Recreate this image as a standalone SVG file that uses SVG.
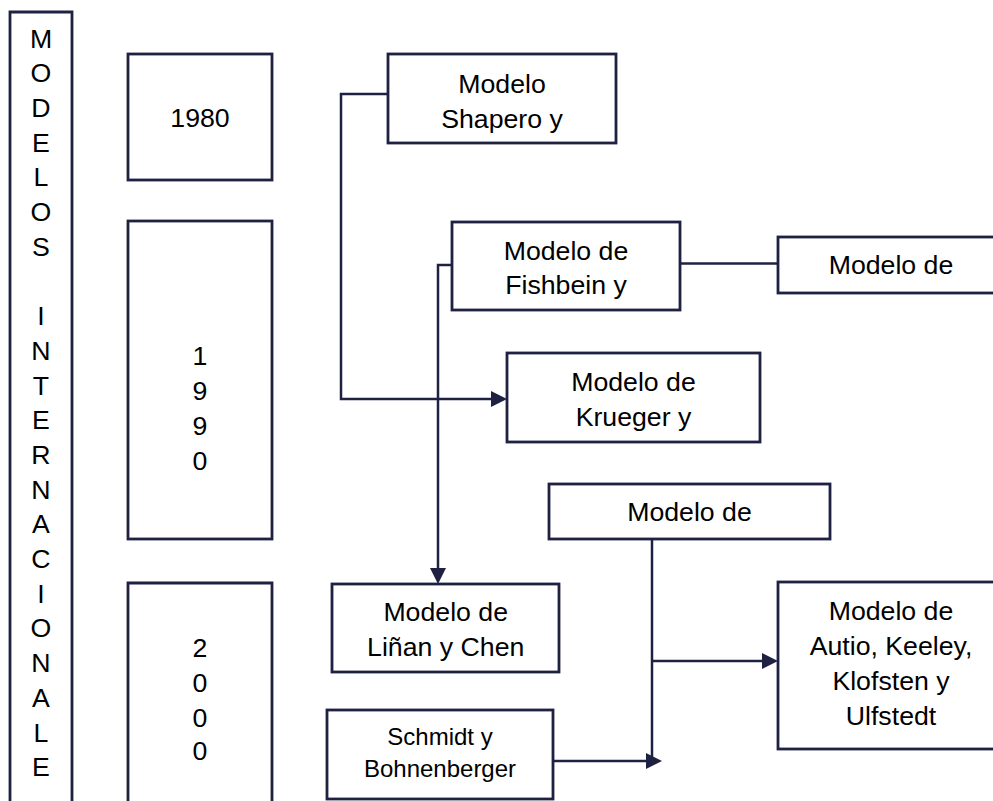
<svg xmlns="http://www.w3.org/2000/svg" width="993" height="801" viewBox="0 0 993 801">
  <defs>
    <style>
      .box { fill: #ffffff; stroke: #1f2142; stroke-width: 2.8; }
      .wire { fill: none; stroke: #1f2142; stroke-width: 2.5; }
      .t { font-family: "Liberation Sans", Arial, sans-serif; font-size: 26.7px; fill: #000000; text-anchor: middle; }
      .s { font-family: "Liberation Sans", Arial, sans-serif; font-size: 24px; fill: #000000; text-anchor: middle; }
    </style>
    <marker id="arrow" markerUnits="userSpaceOnUse" markerWidth="16" markerHeight="18" refX="12" refY="9" orient="auto">
      <path d="M0,1 L16,9 L0,17 Z" fill="#1f2142"/>
    </marker>
  </defs>

  <rect width="993" height="801" fill="#ffffff"/>

  <!-- vertical title column -->
  <g id="titulo">
    <path class="box" d="M10,815 V12 H72 V815"/>
    <g class="t">
      <text x="41" y="47.5">M</text>
      <text x="41" y="82.2">O</text>
      <text x="41" y="116.9">D</text>
      <text x="41" y="151.6">E</text>
      <text x="41" y="186.3">L</text>
      <text x="41" y="221">O</text>
      <text x="41" y="255.7">S</text>
      <text x="41" y="325.1">I</text>
      <text x="41" y="359.8">N</text>
      <text x="41" y="394.5">T</text>
      <text x="41" y="429.2">E</text>
      <text x="41" y="463.9">R</text>
      <text x="41" y="498.6">N</text>
      <text x="41" y="533.3">A</text>
      <text x="41" y="568">C</text>
      <text x="41" y="602.7">I</text>
      <text x="41" y="637.4">O</text>
      <text x="41" y="672.1">N</text>
      <text x="41" y="706.8">A</text>
      <text x="41" y="741.5">L</text>
      <text x="41" y="776.2">E</text>
    </g>
  </g>

  <!-- decades -->
  <g id="anio-1980">
    <rect class="box" x="128" y="54" width="144" height="126"/>
    <text class="t" x="200" y="126.5">1980</text>
  </g>
  <g id="anio-1990">
    <rect class="box" x="128" y="221" width="144" height="318"/>
    <g class="t">
      <text x="200" y="364.5">1</text>
      <text x="200" y="399.5">9</text>
      <text x="200" y="434.5">9</text>
      <text x="200" y="469.5">0</text>
    </g>
  </g>
  <g id="anio-2000">
    <path class="box" d="M128,815 V583 H272 V815"/>
    <g class="t">
      <text x="200" y="656.5">2</text>
      <text x="200" y="692">0</text>
      <text x="200" y="726.5">0</text>
      <text x="200" y="760">0</text>
    </g>
  </g>

  <!-- models -->
  <g id="shapero">
    <rect class="box" x="388" y="54" width="228" height="89"/>
    <text class="t" x="502" y="92.5">Modelo</text>
    <text class="t" x="502" y="127.5">Shapero y</text>
  </g>
  <g id="fishbein">
    <rect class="box" x="452" y="222" width="228" height="88"/>
    <text class="t" x="566" y="259.5">Modelo de</text>
    <text class="t" x="566" y="293.5">Fishbein y</text>
  </g>
  <g id="modelo-derecha">
    <rect class="box" x="778" y="237" width="240" height="56"/>
    <text class="t" x="891" y="273.5">Modelo de</text>
  </g>
  <g id="krueger">
    <rect class="box" x="507" y="353" width="253" height="89"/>
    <text class="t" x="633.5" y="391">Modelo de</text>
    <text class="t" x="633.5" y="426">Krueger y</text>
  </g>
  <g id="modelo-central">
    <rect class="box" x="549" y="484" width="281" height="55"/>
    <text class="t" x="689.5" y="521">Modelo de</text>
  </g>
  <g id="linan-chen">
    <rect class="box" x="332" y="584" width="227" height="88"/>
    <text class="t" x="445.7" y="621">Modelo de</text>
    <text class="t" x="445.7" y="656">Liñan y Chen</text>
  </g>
  <g id="schmidt">
    <rect class="box" x="327" y="710" width="226" height="89"/>
    <text class="s" x="440" y="745">Schmidt y</text>
    <text class="s" x="440" y="777">Bohnenberger</text>
  </g>
  <g id="autio">
    <rect class="box" x="778" y="582" width="240" height="167"/>
    <text class="t" x="891" y="619.5">Modelo de</text>
    <text class="t" x="891" y="654.5">Autio, Keeley,</text>
    <text class="t" x="891" y="689.5">Klofsten y</text>
    <text class="t" x="891" y="724.5">Ulfstedt</text>
  </g>

  <!-- connectors -->
  <g id="conectores">
    <path class="wire" d="M388,94 H341 V399 H503" marker-end="url(#arrow)"/>
    <path class="wire" d="M452,265 H438 V580" marker-end="url(#arrow)"/>
    <path class="wire" d="M680,263.5 H778"/>
    <path class="wire" d="M652,539 V761"/>
    <path class="wire" d="M652,661 H774" marker-end="url(#arrow)"/>
    <path class="wire" d="M553,761 H658" marker-end="url(#arrow)"/>
  </g>
</svg>
